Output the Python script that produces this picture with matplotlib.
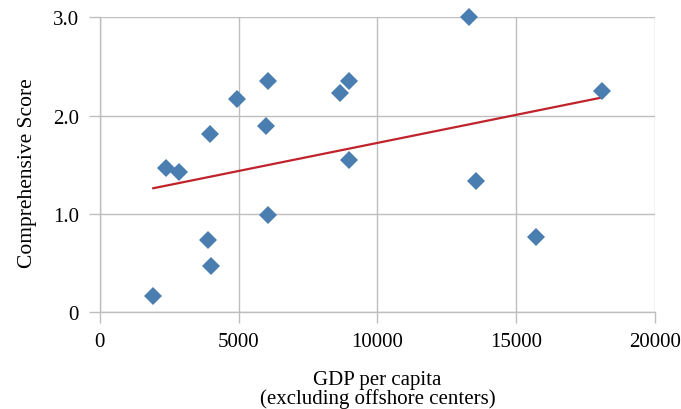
import numpy as np
import matplotlib
matplotlib.use("Agg")
import matplotlib.pyplot as plt

plt.rcParams['font.family'] = ['Liberation Serif', 'DejaVu Serif']

gdp = [1930, 2390, 2840, 3910, 4010, 3990, 4930, 5980, 6065, 6045,
       8645, 8995, 8995, 13300, 13560, 15730, 18080]
score = [0.17, 1.47, 1.43, 0.73, 0.47, 1.81, 2.17, 1.89, 2.35, 0.99,
         2.23, 2.35, 1.55, 3.00, 1.33, 0.77, 2.25]
xticks = [0, 5000, 10000, 15000, 20000]
yticks = [0, 1.0, 2.0, 3.0]
ytick_labels = ["0", "1.0", "2.0", "3.0"]

fig = plt.figure(figsize=(6.81, 4.10), dpi=100)
ax = fig.add_axes([0.1464, 0.2359, 0.8154, 0.7195])

gx = np.array(gdp, dtype=float)
gy = np.array(score, dtype=float)
m, b = np.polyfit(gx, gy, 1)
xs = np.array([gx.min(), gx.max()])
ax.plot(xs, m * xs + b, color='#C0232C', lw=1.6, zorder=3)
ax.plot(gx, gy, linestyle='none', marker='D', markersize=9.5,
        color='#4A7EB0', markeredgewidth=0, zorder=4, clip_on=False)

ax.set_xlim(0, 20000)
ax.set_ylim(0, 3.0)
ax.set_xticks(xticks)
ax.set_xticklabels([str(t) for t in xticks])
ax.set_yticks(yticks)
ax.set_yticklabels(ytick_labels)
ax.grid(True, color='#BEBEBE', lw=1.0)
ax.set_axisbelow(True)
for s in ['top', 'right']:
    ax.spines[s].set_visible(False)
for s in ['left', 'bottom']:
    ax.spines[s].set_color('#BEBEBE')
    ax.spines[s].set_linewidth(1.0)
ax.tick_params(axis='both', colors='#BEBEBE', labelcolor='black',
               labelsize=15, width=1.0, direction='out')
ax.tick_params(axis='y', length=8, pad=7)
ax.tick_params(axis='x', length=7.7, pad=6.5)

ax.set_xlabel("GDP per capita\n(excluding offshore centers)", fontsize=15,
              labelpad=13.5, linespacing=0.95)
ax.set_ylabel("Comprehensive Score", fontsize=15.5)
ax.yaxis.set_label_coords(-0.113, 0.475)

fig.savefig("out.png", dpi=100)
